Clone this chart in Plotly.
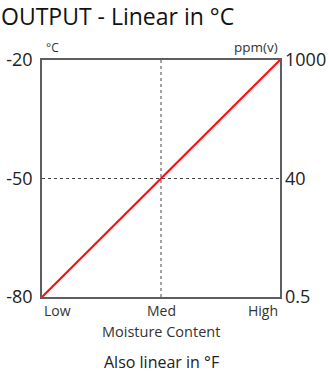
import plotly.graph_objects as go

categories = ["Low", "Med", "High"]
celsius = [-80, -50, -20]
ppm_labels = ["0.5", "40", "1000"]
title = "OUTPUT - Linear in °C"

FONT = "Open Sans"
xpos = list(range(len(categories)))

fig = go.Figure()
fig.add_trace(go.Scatter(x=xpos, y=celsius, mode="lines",
                         line=dict(color="#ff1010", width=2.2),
                         showlegend=False, hoverinfo="skip"))
fig.add_trace(go.Scatter(x=xpos, y=xpos, yaxis="y2", mode="lines",
                         line=dict(width=0), showlegend=False, hoverinfo="skip",
                         opacity=0))

fig.update_layout(
    width=329, height=376,
    margin=dict(l=42, r=49, t=60, b=79, autoexpand=False),
    paper_bgcolor="white", plot_bgcolor="white",
    font=dict(family=FONT, color="#222"),
    xaxis=dict(range=[xpos[0], xpos[-1]], showgrid=False, zeroline=False,
               showticklabels=False, ticks="", showline=True, mirror=True,
               linecolor="#5e5e5e", linewidth=1.6, fixedrange=True),
    yaxis=dict(range=[celsius[0], celsius[-1]], tickvals=celsius,
               ticktext=[str(v) for v in celsius], showgrid=False, zeroline=False,
               ticks="", showline=True, mirror=True, linecolor="#5e5e5e", linewidth=1.6,
               tickfont=dict(size=18, family=FONT, color="#222"), ticklabelstandoff=4),
    yaxis2=dict(range=[xpos[0], xpos[-1]], overlaying="y", side="right",
                tickvals=xpos, ticktext=ppm_labels, showgrid=False, zeroline=False,
                ticks="", showline=False,
                tickfont=dict(size=18, family=FONT, color="#222"), ticklabelstandoff=4),
    shapes=[
        dict(type="line", xref="x", yref="paper", x0=xpos[1], x1=xpos[1], y0=0, y1=1,
             line=dict(color="#444", width=1, dash="3px,3px"), layer="below"),
        dict(type="line", xref="paper", yref="y", x0=0, x1=1, y0=celsius[1], y1=celsius[1],
             line=dict(color="#444", width=1, dash="3px,3px"), layer="below"),
    ],
)

layout_anns = []
layout_anns.append(dict(text=title, xref="paper", yref="paper", x=-43/238, y=1 + 44/237,
                        xanchor="left", yanchor="middle", showarrow=False,
                        font=dict(size=23, family=FONT, color="#111")))
layout_anns.append(dict(text="°C", xref="paper", yref="paper", x=0.01, y=1.008,
                        xanchor="left", yanchor="bottom", showarrow=False,
                        font=dict(size=12, family=FONT, color="#333")))
layout_anns.append(dict(text="ppm(v)", xref="paper", yref="paper", x=1.0, y=1.008,
                        xanchor="right", yanchor="bottom", showarrow=False,
                        font=dict(size=13.5, family=FONT, color="#333")))
anchors = ["left", "center", "right"]
for xv, lab, anc in zip(xpos, categories, anchors):
    layout_anns.append(dict(text=lab, xref="x", yref="paper", x=xv, y=-13/237,
                            xanchor=anc, yanchor="middle", showarrow=False,
                            font=dict(size=14, family=FONT, color="#333")))
layout_anns.append(dict(text="Moisture Content", xref="x", yref="paper", x=xpos[1],
                        y=-34/237, xanchor="center", yanchor="middle", showarrow=False,
                        font=dict(size=14.5, family=FONT, color="#333")))
layout_anns.append(dict(text="Also linear in °F", xref="x", yref="paper", x=xpos[1],
                        y=-65/237, xanchor="center", yanchor="middle", showarrow=False,
                        font=dict(size=16, family=FONT, color="#222")))
fig.update_layout(annotations=layout_anns)

fig.write_html("out.html", config={"displayModeBar": False},
               post_script="document.body.style.margin='0';document.body.style.overflow='hidden';")
